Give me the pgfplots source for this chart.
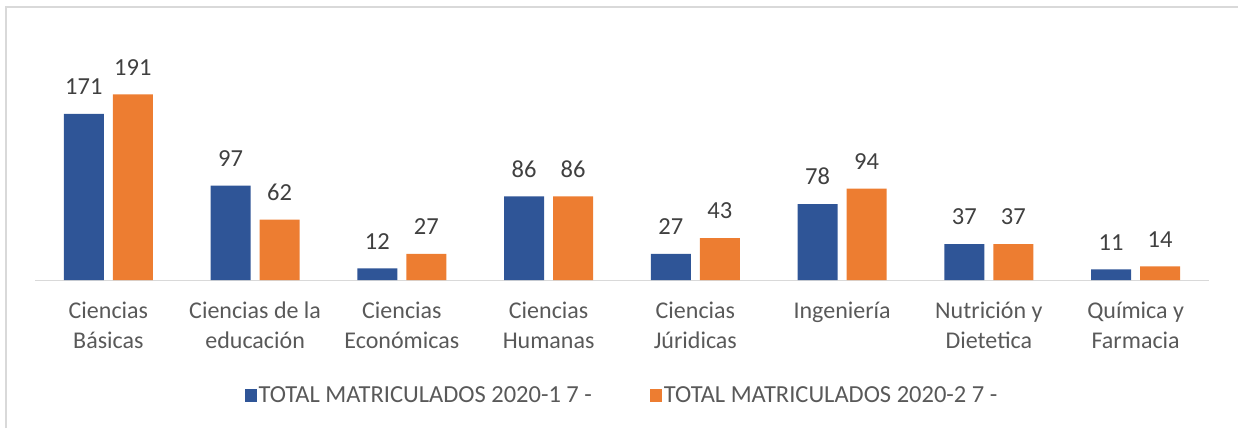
\documentclass[border=0pt]{standalone}
\usepackage{pgfplots}
\pgfplotsset{compat=1.18}
\usepackage{fontspec}
\setmainfont{Carlito}
\definecolor{serA}{HTML}{2F5597}
\definecolor{serB}{HTML}{ED7D31}
\definecolor{txt}{HTML}{595959}
\definecolor{lbl}{HTML}{404040}
\definecolor{gridc}{HTML}{D9D9D9}

\begin{document}
\begin{tikzpicture}
  \useasboundingbox (0pt,0pt) rectangle (1238pt,428pt);
  \begin{axis}[
    at={(35pt,148pt)}, anchor=south west,
    scale only axis,
    width=1174pt, height=243pt,
    ybar=9pt, bar width=40pt,
    xmin=-0.5, xmax=7.5,
    ymin=0, ymax=250,
    axis x line=bottom, axis y line=none,
    x axis line style={draw=gridc, line width=1pt, -},
    xtick=data,
    xtick style={draw=none},
    xticklabels={{Ciencias\\Básicas},{Ciencias de la\\educación},{Ciencias\\Económicas},{Ciencias\\Humanas},{Ciencias\\Júridicas},{Ingeniería},{Nutrición y\\Dietetica},{Química y\\Farmacia}},
    xticklabel style={font=\fontsize{24}{29.5}\selectfont, text=txt, align=center, anchor=north, inner sep=0pt, yshift=-20pt},
    ytick=\empty,
    /pgf/number format/assume math mode=true,
    nodes near coords,
    nodes near coords style={font=\fontsize{24.5}{28}\selectfont, text=lbl, anchor=south, inner sep=0pt, yshift=19pt},
    clip=false,
    legend columns=2,
    legend style={at={(0.5,-0.474)}, anchor=center, draw=none, fill=none,
      font=\fontsize{24.5}{28}\selectfont, text=txt,
      /tikz/every even column/.append style={column sep=56pt},
      nodes={inner sep=2pt}},
    legend image code/.code={\path[#1,draw=none] (0pt,-6.5pt) rectangle (12pt,6.5pt);},
  ]
    \addplot[fill=serA, draw=none] coordinates {(0,171) (1,97) (2,12) (3,86) (4,27) (5,78) (6,37) (7,11)};
    \addplot[fill=serB, draw=none] coordinates {(0,191) (1,62) (2,27) (3,86) (4,43) (5,94) (6,37) (7,14)};
    \legend{TOTAL MATRICULADOS 2020-1 7 -, TOTAL MATRICULADOS 2020-2 7 -}
  \end{axis}
  \draw[gridc, line width=1.5pt] (6pt,0pt) -- (6pt,421pt) -- (1238pt,421pt);
\end{tikzpicture}
\end{document}
